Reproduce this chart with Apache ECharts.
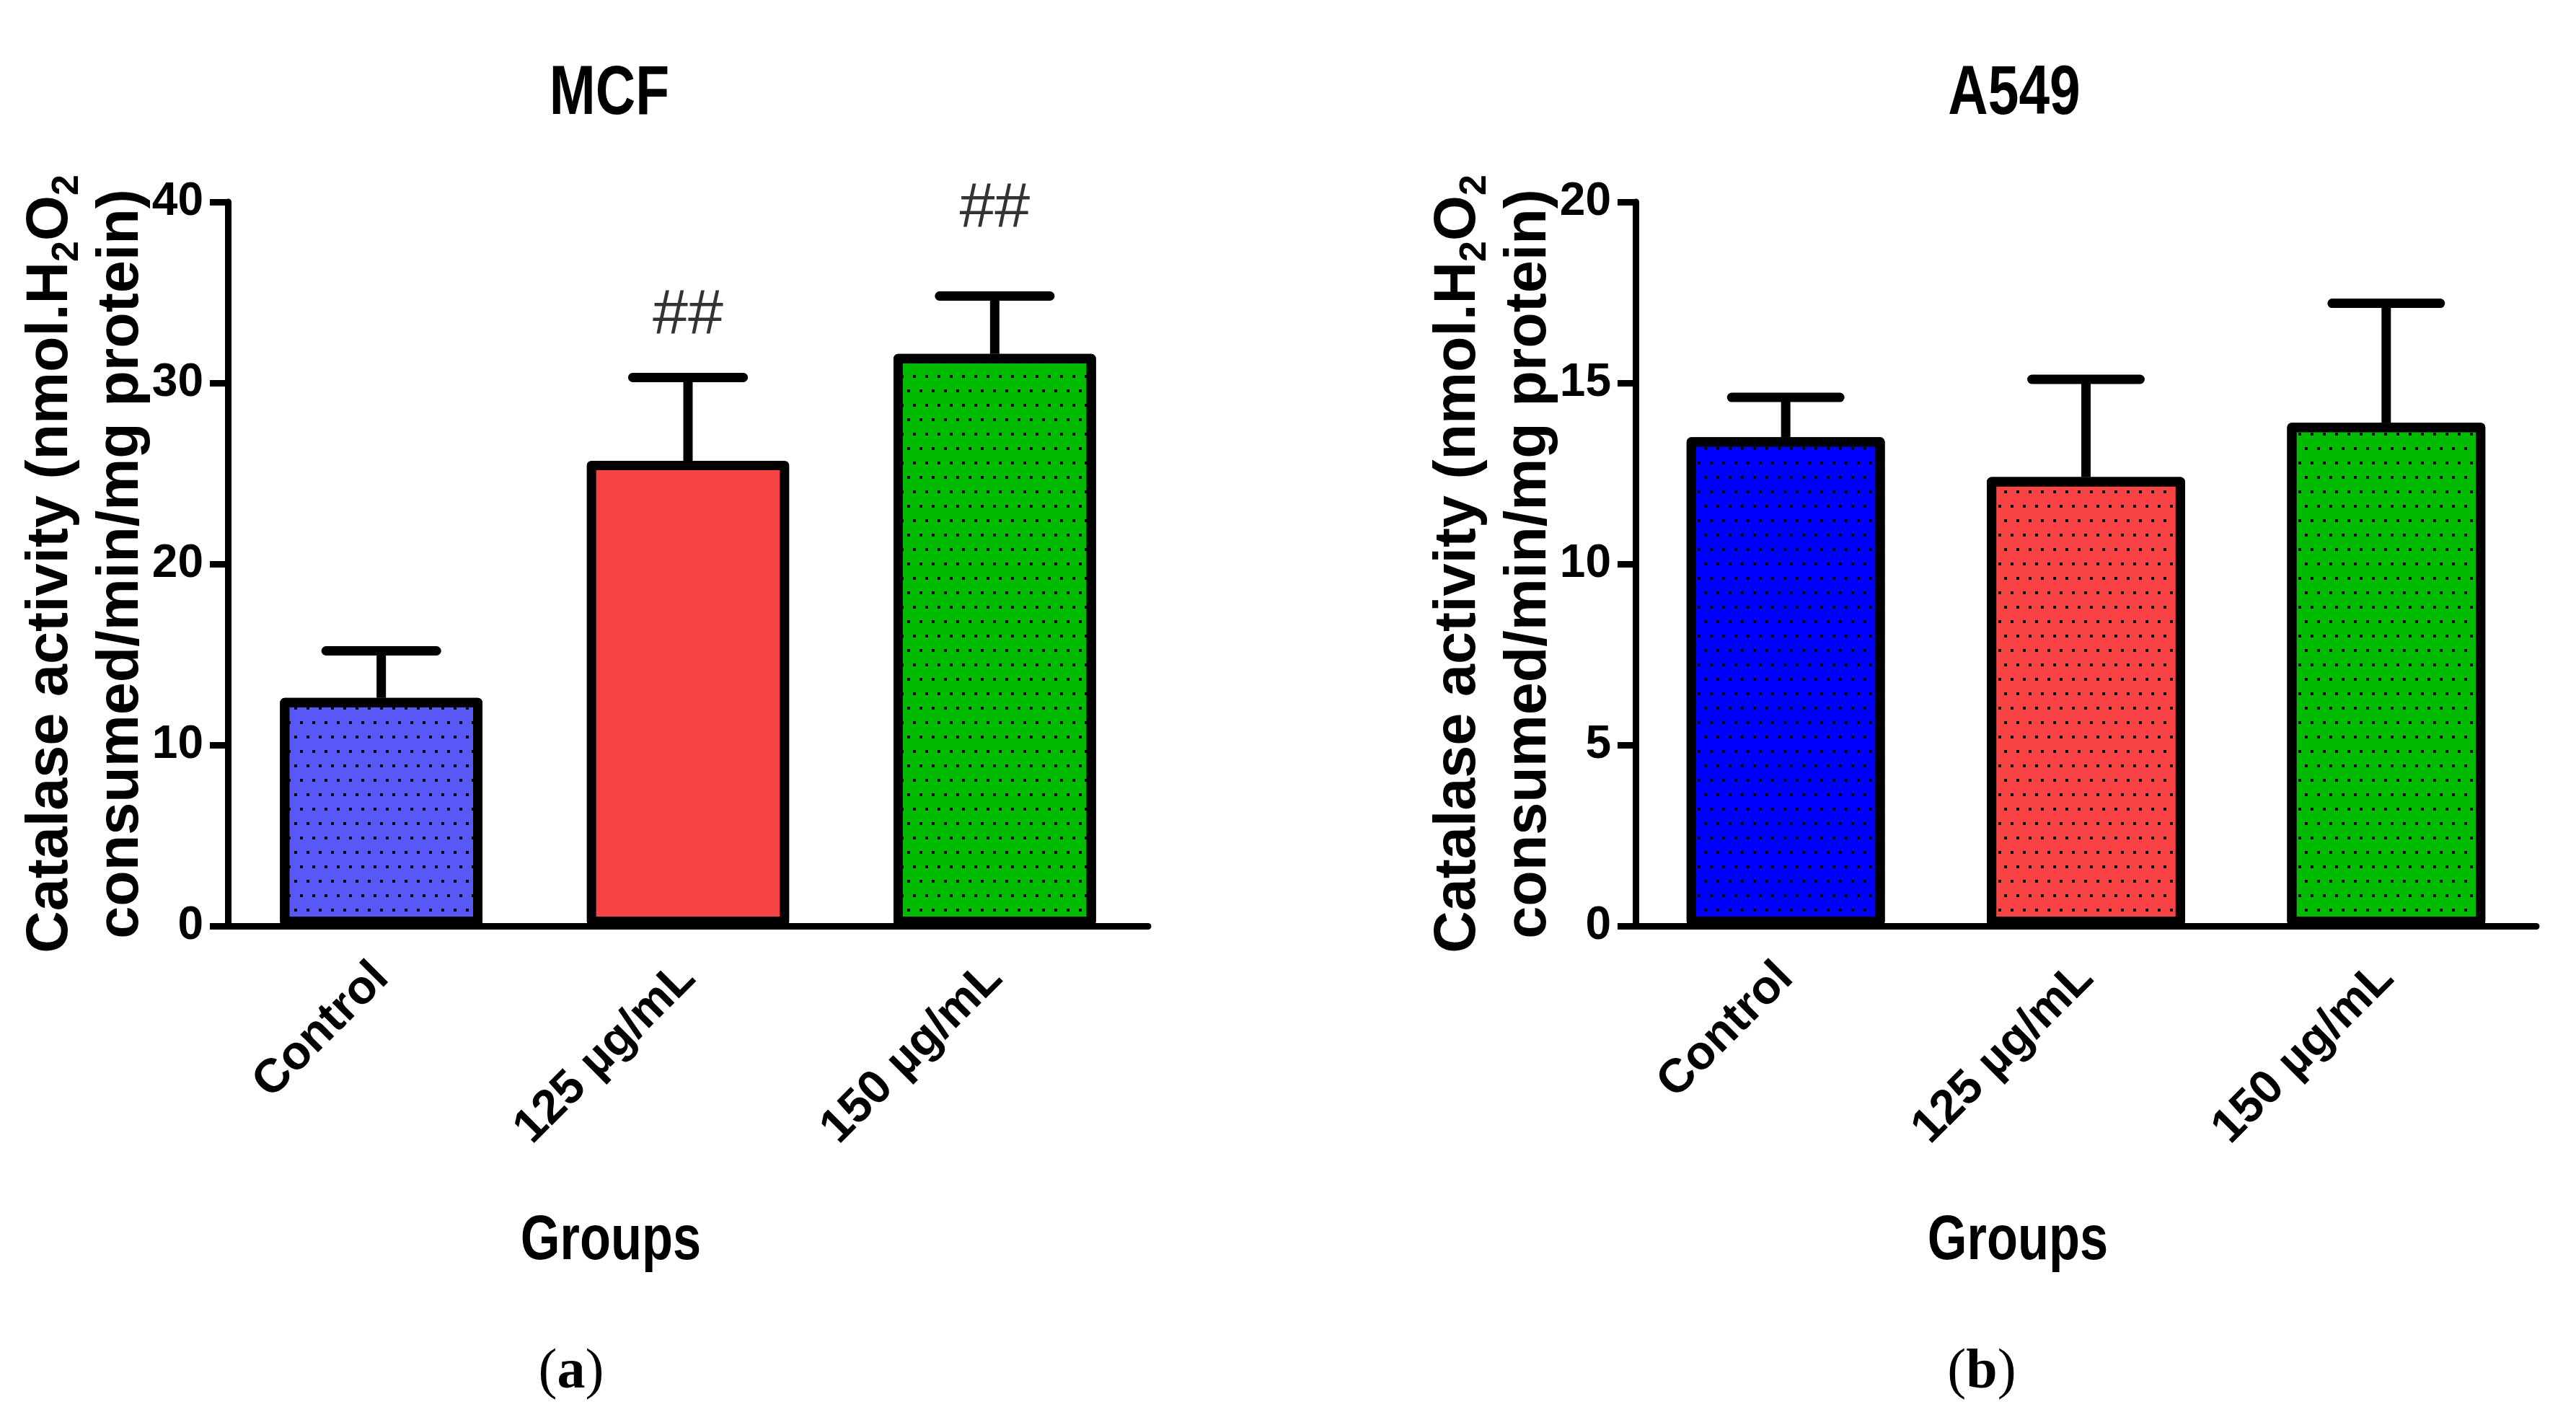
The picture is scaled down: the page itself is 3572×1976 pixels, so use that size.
<!DOCTYPE html>
<html>
<head>
<meta charset="utf-8">
<script src="https://cdn.jsdelivr.net/npm/echarts@6/dist/echarts.min.js"></script>
<style>
  html, body { margin: 0; padding: 0; background: #fff; }
  #chart { width: 3572px; height: 1976px; }
</style>
</head>
<body>
<div id="chart"></div>
<script>
// values
const categories = ['Control', '125 µg/mL', '150 µg/mL'];

const mcfMean = [12.6, 25.7, 31.6];
const mcfSD = [2.6, 4.6, 3.2];
const mcfSig = ['', '##', '##'];
const mcfSigY = [null, 33.7, 39.6];

const a549Mean = [13.5, 12.4, 13.9];
const a549SD = [1.1, 2.7, 3.3];

const mcfTicks = [0, 10, 20, 30, 40];
const a549Ticks = [0, 5, 10, 15, 20];

const mcfColors = ['#5858F7', '#F74343', '#00BB00'];
const a549Colors = ['#0000FF', '#F74343', '#00BB00'];
const mcfDotted = [true, false, true];
const a549Dotted = [true, true, true];

const SANS = "'Liberation Sans', Arial, sans-serif";
const SERIF = "'Liberation Serif', 'Times New Roman', serif";

const dots = {
  symbol: 'rect',
  symbolSize: 1,
  color: '#000',
  backgroundColor: null,
  dashArrayX: [[4, 13], [0, 8, 4, 5]],
  dashArrayY: [4, 16],
  rotation: 0
};

const chart = echarts.init(document.getElementById('chart'), null, { renderer: 'canvas' });

function barData(means, colors, dotted) {
  return means.map((v, i) => ({
    value: v,
    itemStyle: Object.assign({ color: colors[i] }, dotted[i] ? { decal: dots } : {})
  }));
}

function errData(means, sds) {
  return means.map((v, i) => [i, v, v + sds[i]]);
}

function renderErr(params, api) {
  const x = api.value(0);
  const lo = api.coord([x, api.value(1)]);
  const hi = api.coord([x, api.value(2)]);
  const half = api.size([1, 0])[0] * 0.18;
  return {
    type: 'group',
    children: [
      { type: 'line', shape: { x1: lo[0], y1: lo[1], x2: hi[0], y2: hi[1] }, style: { stroke: '#000', lineWidth: 13 } },
      { type: 'line', shape: { x1: hi[0] - half, y1: hi[1], x2: hi[0] + half, y2: hi[1] }, style: { stroke: '#000', lineWidth: 13, lineCap: 'round' } }
    ]
  };
}

function xAxisCfg(idx) {
  return {
    type: 'category',
    gridIndex: idx,
    data: categories,
    axisLine: { lineStyle: { color: '#000', width: 9 } },
    axisTick: { alignWithLabel: true, length: 34, lineStyle: { color: '#000', width: 9 } },
    axisLabel: { interval: 0, rotate: 45, margin: 62, fontFamily: SANS, fontWeight: 'bold', fontSize: 66, color: '#000' },
    splitLine: { show: false }
  };
}

const yName = '{t|Catalase activity (nmol.H}{s|2}{t|O}{s|2}\n{t|consumed/min/mg protein)}';
const yRich = {
  t: { fontFamily: SANS, fontWeight: 'bold', fontSize: 81, lineHeight: 98, color: '#000' },
  s: { fontFamily: SANS, fontWeight: 'bold', fontSize: 52, lineHeight: 58, verticalAlign: 'bottom', color: '#000' }
};

function yAxisCfg(idx, max, interval) {
  return {
    type: 'value',
    gridIndex: idx,
    min: 0,
    max: max,
    interval: interval,
    name: yName,
    nameLocation: 'middle',
    nameRotate: 90,
    nameGap: 98,
    nameMoveOverlap: false,
    nameTextStyle: { rich: yRich },
    axisLine: { show: true, lineStyle: { color: '#000', width: 9 } },
    axisTick: { show: true, length: 25, lineStyle: { color: '#000', width: 9 } },
    axisLabel: { margin: 34, fontFamily: SANS, fontWeight: 'bold', fontSize: 64, color: '#000',
      customValues: idx === 0 ? mcfTicks : a549Ticks },
    splitLine: { show: false }
  };
}

const barCommon = {
  type: 'bar',
  barWidth: '66%',
  z: 3,
  itemStyle: { borderColor: '#000', borderWidth: 13, borderJoin: 'round' },
  emphasis: { disabled: true }
};

function condensed(text, x, y, size) {
  return {
    type: 'text', x: x, y: y, scaleX: 0.8,
    style: { text: text, align: 'center', verticalAlign: 'middle', font: 'bold ' + size + "px 'Liberation Sans', Arial", fill: '#000' }
  };
}

function caption(letter, x) {
  return {
    type: 'text', x: x, y: 1904,
    style: {
      text: '({b|' + letter + '})', align: 'center', verticalAlign: 'middle',
      font: "78px 'Liberation Serif', serif", fill: '#000',
      rich: { b: { fontFamily: SERIF, fontWeight: 'bold', fontSize: 78, fill: '#000' } }
    }
  };
}

const option = {
  animation: false,
  backgroundColor: '#fff',
  grid: [
    { left: 316, right: 3572 - 1592, top: 280, bottom: 1976 - 1284, containLabel: false, outerBoundsMode: 'none' },
    { left: 2268, right: 3572 - 3517, top: 280, bottom: 1976 - 1284, containLabel: false, outerBoundsMode: 'none' }
  ],
  xAxis: [xAxisCfg(0), xAxisCfg(1)],
  yAxis: [yAxisCfg(0, 40, 10), yAxisCfg(1, 20, 5)],
  graphic: [
    condensed('MCF', 845, 132, 96),
    condensed('A549', 2793, 132, 96),
    condensed('Groups', 847, 1722, 88),
    condensed('Groups', 2798, 1722, 88),
    caption('a', 792),
    caption('b', 2748)
  ],
  series: [
    Object.assign({}, barCommon, { xAxisIndex: 0, yAxisIndex: 0, data: barData(mcfMean, mcfColors, mcfDotted) }),
    Object.assign({}, barCommon, { xAxisIndex: 1, yAxisIndex: 1, data: barData(a549Mean, a549Colors, a549Dotted) }),
    { type: 'custom', xAxisIndex: 0, yAxisIndex: 0, z: 2, renderItem: renderErr, data: errData(mcfMean, mcfSD), silent: true },
    { type: 'custom', xAxisIndex: 1, yAxisIndex: 1, z: 2, renderItem: renderErr, data: errData(a549Mean, a549SD), silent: true },
    {
      type: 'scatter', xAxisIndex: 0, yAxisIndex: 0, symbolSize: 0, silent: true,
      data: mcfSig.map((s, i) => ({ value: [i, mcfSigY[i]], label: { show: !!s, formatter: s } })).filter(d => d.value[1] != null),
      label: { position: 'inside', fontFamily: SANS, fontSize: 88, color: '#000' }
    }
  ]
};

chart.setOption(option);
</script>
</body>
</html>
